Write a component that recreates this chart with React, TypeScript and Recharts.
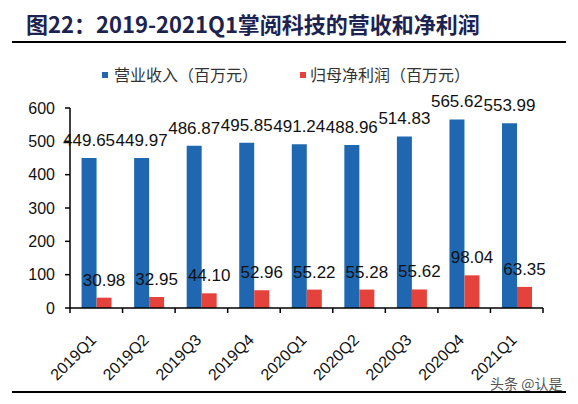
import React from "react";
import { Bar, BarChart, LabelList, XAxis, YAxis } from "recharts";

const quarters = [
  "2019Q1",
  "2019Q2",
  "2019Q3",
  "2019Q4",
  "2020Q1",
  "2020Q2",
  "2020Q3",
  "2020Q4",
  "2021Q1",
];
const revenue = [449.65, 449.97, 486.87, 495.85, 491.24, 488.96, 514.83, 565.62, 553.99];
const netProfit = [30.98, 32.95, 44.1, 52.96, 55.22, 55.28, 55.62, 98.04, 63.35];
const yTicks = [0, 100, 200, 300, 400, 500, 600];

const seriesNames = ["营业收入（百万元）", "归母净利润（百万元）"];
const BLUE = "#1f68b1";
const RED = "#e5423b";
const NUM_FONT = "'Liberation Sans', Arial, sans-serif";
const CJK_FONT = "'Noto Sans CJK SC', 'Liberation Sans', sans-serif";

const data = quarters.map((q, i) => ({
  quarter: q,
  revenue: revenue[i],
  netProfit: netProfit[i],
}));

const fmt = (v: any) => Number(v).toFixed(2);

function QuarterTick(props: any) {
  const { x, y, payload, index, visibleTicksCount } = props;
  const half = payload?.offset || 26.28;
  const last = index === (visibleTicksCount ?? quarters.length) - 1;
  return (
    <g>
      <line x1={x - half} x2={x - half} y1={y - 8} y2={y - 3} stroke="#000" strokeWidth={1.5} />
      {last && (
        <line x1={x + half} x2={x + half} y1={y - 8} y2={y - 3} stroke="#000" strokeWidth={1.5} />
      )}
      <text
        transform={`translate(${x + 1},${y + 25}) rotate(-45)`}
        textAnchor="end"
        fontSize={16}
        fontFamily={NUM_FONT}
        fill="#111"
      >
        {payload.value}
      </text>
    </g>
  );
}

export default function App() {
  return (
    <div
      style={{
        position: "absolute",
        left: 0,
        top: 0,
        width: 578,
        height: 404,
        background: "#fff",
      }}
    >
      <BarChart
        width={578}
        height={404}
        data={data}
        margin={{ top: 108, right: 35, left: 10, bottom: 0 }}
        barCategoryGap="22%"
        barGap={0}
      >
        <XAxis
          dataKey="quarter"
          height={96}
          tickLine={false}
          axisLine={{ stroke: "#000", strokeWidth: 1.5 }}
          interval={0}
          tick={<QuarterTick />}
        />
        <YAxis
          width={60}
          domain={[0, 600]}
          ticks={yTicks}
          interval={0}
          tickSize={5}
          tickMargin={10}
          axisLine={{ stroke: "#000", strokeWidth: 1.5 }}
          tickLine={{ stroke: "#000", strokeWidth: 1.5 }}
          tick={{ fontSize: 16, fill: "#111", fontFamily: NUM_FONT }}
        />
        <Bar dataKey="revenue" name={seriesNames[0]} fill={BLUE} isAnimationActive={false}>
          <LabelList
            dataKey="revenue"
            position="top"
            offset={12}
            formatter={fmt}
            style={{ fontSize: 17, fill: "#111", fontFamily: NUM_FONT }}
          />
        </Bar>
        <Bar dataKey="netProfit" name={seriesNames[1]} fill={RED} isAnimationActive={false}>
          <LabelList
            dataKey="netProfit"
            position="top"
            offset={12}
            formatter={fmt}
            style={{ fontSize: 17, fill: "#111", fontFamily: NUM_FONT }}
          />
        </Bar>
      </BarChart>

      <svg
        width={578}
        height={404}
        style={{ position: "absolute", left: 0, top: 0, pointerEvents: "none" }}
      >
        <text x={26} y={33} fontSize={22} fontWeight="bold" fontFamily={CJK_FONT} fill="#1c2350">
          图22：2019-2021Q1掌阅科技的营收和净利润
        </text>
        <line x1={12} x2={566} y1={42} y2={42} stroke="#000" strokeWidth={2} />

        <rect x={102} y={72} width={6} height={6} fill={BLUE} />
        <text x={114} y={81} fontSize={16} fontFamily={CJK_FONT} fill="#333">
          {seriesNames[0]}
        </text>
        <rect x={300} y={72} width={6} height={6} fill={RED} />
        <text x={310} y={81} fontSize={16} fontFamily={CJK_FONT} fill="#333">
          {seriesNames[1]}
        </text>

        <text x={490} y={389} fontSize={14} fontFamily={CJK_FONT} fill="#555">
          头条 @认是
        </text>
        <line x1={12} x2={566} y1={392} y2={392} stroke="#000" strokeWidth={2} />
      </svg>
    </div>
  );
}
